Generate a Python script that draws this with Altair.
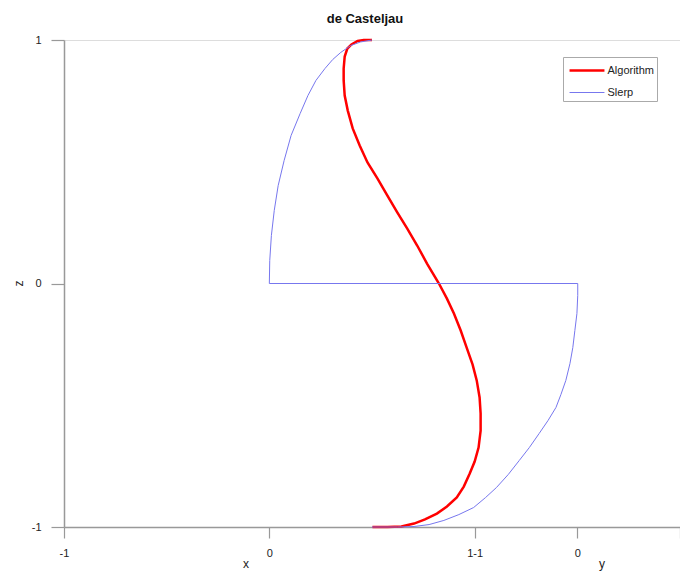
import altair as alt
import pandas as pd

# Algorithm (de Casteljau) curve, projected coordinates (horizontal u, vertical z)
alg_u = [0.50, 0.46, 0.43, 0.40, 0.38, 0.367, 0.362, 0.362, 0.367, 0.382, 0.406, 0.44, 0.478,
         0.527, 0.575, 0.623, 0.671, 0.72, 0.768, 0.826, 0.865, 0.899, 0.932, 0.961, 0.99,
         1.01, 1.024, 1.029, 1.029, 1.019, 1.0, 0.976, 0.947, 0.913, 0.865, 0.816, 0.758,
         0.705, 0.643, 0.575, 0.502]
alg_z = [1.0, 1.0, 0.996, 0.982, 0.965, 0.932, 0.883, 0.834, 0.772, 0.71, 0.637, 0.567, 0.497,
         0.431, 0.361, 0.292, 0.226, 0.156, 0.082, 0.0, -0.062, -0.123, -0.193, -0.263, -0.333,
         -0.398, -0.468, -0.534, -0.604, -0.674, -0.731, -0.78, -0.834, -0.879, -0.916, -0.945,
         -0.969, -0.986, -0.998, -1.0, -1.0]

# Slerp curve
slerp_u = [0.50, 0.444, 0.396, 0.348, 0.309, 0.271, 0.227, 0.188, 0.150, 0.106, 0.072,
           0.043, 0.024, 0.010, 0.002, 0.0,
           1.502, 1.502, 1.498, 1.488, 1.478, 1.464, 1.444, 1.420, 1.396, 1.357, 1.314,
           1.266, 1.217, 1.164, 1.106, 1.053, 0.995, 0.923, 0.850, 0.778, 0.705, 0.623, 0.50]
slerp_z = [1.0, 0.992, 0.977, 0.949, 0.920, 0.883, 0.834, 0.772, 0.698, 0.608, 0.505,
           0.402, 0.300, 0.197, 0.094, 0.0,
           0.0, -0.049, -0.123, -0.193, -0.263, -0.329, -0.398, -0.456, -0.509, -0.563, -0.616,
           -0.674, -0.727, -0.784, -0.838, -0.879, -0.920, -0.949, -0.973, -0.990, -0.998,
           -1.0, -1.0]

series_names = ["Algorithm", "Slerp"]
series_colors = ["#ff0000", "#7777ee"]
series_widths = [2.5, 1.0]

x_ticks = [-1, 0, 1, 1.5, 2]
x_tick_labels = ["-1", "0", "1-1", "0", ""]
z_ticks = [-1, 0, 1]
z_tick_labels = ["-1", "0", "1"]

rows = []
for i, (u, z) in enumerate(zip(alg_u, alg_z)):
    rows.append({"series": "Algorithm", "u": u, "z": z, "idx": i})
for i, (u, z) in enumerate(zip(slerp_u, slerp_z)):
    rows.append({"series": "Slerp", "u": u, "z": z, "idx": i})
df = pd.DataFrame(rows)

x_expr = " : ".join(
    f"datum.value == {v} ? '{l}'" for v, l in zip(x_ticks, x_tick_labels)
) + " : ''"
z_expr = " : ".join(
    f"datum.value == {v} ? '{l}'" for v, l in zip(z_ticks, z_tick_labels)
) + " : ''"

FONT = "Liberation Sans"
NBSP = "\u00a0" * 6

legend_kw = dict(title=None, orient="none", legendX=499, legendY=17,
                 symbolType="M-1.94,0H1.94", symbolSize=324, symbolOffset=10.5,
                 labelFont=FONT, labelFontSize=11, labelColor="#222",
                 labelExpr=f"datum.label + '{NBSP}'",
                 strokeColor="#aaa", padding=3, rowPadding=7,
                 labelOffset=10, fillColor="white")

lines = alt.Chart(df).mark_line(clip=False).encode(
    x=alt.X("u:Q", scale=alt.Scale(domain=[-1, 2], nice=False, zero=False),
            axis=alt.Axis(values=x_ticks, labelExpr=x_expr, title=None,
                          tickSize=11, labelPadding=9, labelFontSize=11,
                          labelFont=FONT, labelColor="#222",
                          domainColor="#999", domainWidth=1.5,
                          tickColor="#999", tickWidth=1.2, grid=False,
                          labelOverlap=False, labelFlush=False)),
    y=alt.Y("z:Q", scale=alt.Scale(domain=[-1, 1], nice=False, zero=False),
            axis=alt.Axis(values=z_ticks, labelExpr=z_expr, title="z",
                          titleAngle=270, titleX=-46, titleY=243,
                          titleFont=FONT, titleFontSize=12, titleFontWeight="normal",
                          titleColor="#222", titleBaseline="middle",
                          tickSize=13, labelPadding=10, labelFontSize=11,
                          labelFont=FONT, labelColor="#222",
                          domainColor="#999", domainWidth=1.5,
                          tickColor="#999", tickWidth=1.2, grid=False)),
    color=alt.Color("series:N",
                    scale=alt.Scale(domain=series_names, range=series_colors),
                    legend=alt.Legend(**legend_kw)),
    strokeWidth=alt.StrokeWidth("series:N",
                                scale=alt.Scale(domain=series_names, range=series_widths),
                                legend=alt.Legend(**legend_kw)),
    order="idx:Q",
)

x_title = alt.Chart(pd.DataFrame({"t": ["x"]})).mark_text(
    font=FONT, fontSize=12, color="#222", baseline="middle"
).encode(text="t:N", x=alt.value(182), y=alt.value(524))

y_title = alt.Chart(pd.DataFrame({"t": ["y"]})).mark_text(
    font=FONT, fontSize=12, color="#222", baseline="middle"
).encode(text="t:N", x=alt.value(538), y=alt.value(524))

chart = alt.layer(lines, x_title, y_title).properties(
    width=616, height=487,
    title=alt.TitleParams("de Casteljau", font=FONT, fontSize=13, fontWeight="bold",
                          color="#111", anchor="middle", dx=-7, offset=8),
    autosize=alt.AutoSizeParams(type="none"),
    padding={"left": 56, "top": 32, "right": 0, "bottom": 46},
).configure_view(stroke=None).configure(background="white")

chart.save("out.html", embed_options={"renderer": "svg", "actions": False})
